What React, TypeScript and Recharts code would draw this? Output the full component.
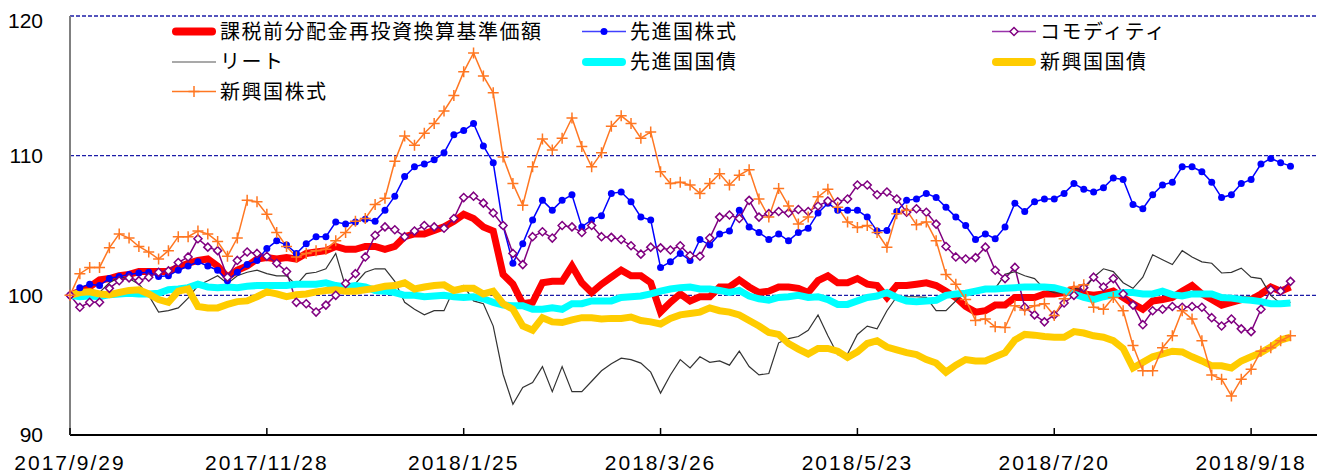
import React from "react";
import { LineChart, Line, XAxis, YAxis, CartesianGrid } from "recharts";

// x axis: business-day index from 2017/9/29, labelled every 40 days
const tickIdx = [0, 40, 80, 120, 160, 200, 240];
const tickLabels = ["2017/9/29", "2017/11/28", "2018/1/25", "2018/3/26", "2018/5/23", "2018/7/20", "2018/9/18"];

// samples are read every other business day
const dayIdx = Array.from({ length: 125 }, (_, k) => k * 2);

const nav = [
  100.0, 100.3, 100.6, 101.1, 101.2, 101.4, 101.5, 101.7, 101.7, 101.7,
  101.7, 102.0, 102.3, 102.5, 102.6, 102.1, 101.3, 101.8, 102.1, 102.6,
  102.7, 102.6, 102.7, 102.6, 103.0, 103.1, 103.2, 103.5, 103.3, 103.3,
  103.5, 103.5, 103.3, 103.5, 104.2, 104.4, 104.4, 104.65, 104.9, 105.3,
  105.8, 105.5, 104.9, 104.6, 101.5, 100.8, 99.4, 99.5, 100.9, 101.0,
  101.0, 102.1, 100.9, 100.2, 100.8, 101.3, 101.8, 101.4, 101.4, 100.9,
  98.8, 99.5, 100.1, 99.6, 99.9, 99.9, 100.6, 100.6, 101.1, 100.6,
  100.2, 100.3, 100.6, 100.6, 100.5, 100.2, 101.05, 101.4, 100.9, 100.9,
  101.2, 100.8, 100.7, 99.85, 100.7, 100.7, 100.8, 100.9, 100.7, 100.3,
  99.85, 99.2, 98.8, 98.9, 99.3, 99.3, 99.85, 99.85, 99.85, 100.1,
  100.1, 100.2, 100.45, 100.1, 100.0, 100.1, 100.3, 99.85, 99.4, 99.0,
  99.6, 99.7, 99.85, 100.3, 100.7, 100.1, 99.7, 99.3, 99.5, 99.7,
  99.7, 100.1, 100.6, 100.3, 100.6,
];

const devEquity = [
  100.0, 100.55, 100.8, 100.7, 101.2, 101.35, 101.5, 101.6, 101.65, 101.35,
  101.4, 101.8, 102.1, 102.4, 102.1, 101.8, 101.05, 101.65, 102.2, 102.5,
  103.35, 103.9, 103.6, 103.0, 103.7, 104.2, 104.2, 105.25, 105.1, 105.25,
  105.45, 105.3, 106.1, 107.1, 108.5, 109.2, 109.4, 109.7, 110.2, 111.5,
  111.8, 112.3, 110.7, 109.5, 105.0, 102.3, 103.7, 105.4, 106.8, 106.1,
  106.8, 107.2, 104.9, 105.4, 105.7, 107.3, 107.4, 106.7, 105.6, 105.4,
  102.0, 102.4, 103.0, 102.5, 104.0, 103.6, 104.4, 104.6, 106.1, 104.9,
  104.5, 104.0, 104.4, 103.9, 104.5, 104.8, 105.9, 106.6, 106.1, 106.1,
  106.1, 105.6, 104.6, 104.65, 106.0, 106.8, 106.9, 107.3, 107.0, 106.3,
  105.6, 105.0, 104.0, 104.4, 104.05, 104.9, 106.6, 106.0, 106.7, 106.9,
  106.9, 107.3, 108.0, 107.6, 107.4, 107.7, 108.4, 108.3, 106.5, 106.2,
  107.2, 107.9, 108.1, 109.2, 109.2, 108.85, 108.1, 107.0, 107.2, 108.0,
  108.3, 109.4, 109.8, 109.5, 109.25,
];

const commodity = [
  100.0, 99.15, 99.5, 99.5, 100.5, 101.05, 101.25, 101.05, 101.3, 101.65,
  101.75, 102.35, 102.75, 104.05, 103.45, 103.2, 101.3, 102.5, 103.1, 103.0,
  102.8, 102.3, 101.7, 99.5, 99.4, 98.8, 99.3, 100.0, 100.85, 101.55,
  102.75, 104.3, 104.9, 104.7, 104.2, 104.6, 105.0, 104.9, 104.8, 105.5,
  107.0, 107.1, 106.6, 105.9, 105.0, 103.0, 102.2, 104.2, 104.55, 104.1,
  105.0, 104.9, 104.5, 105.0, 104.2, 104.15, 104.0, 103.55, 102.95, 103.45,
  103.4, 103.25, 103.55, 102.85, 102.8, 104.1, 105.6, 105.75, 105.5, 106.8,
  105.6, 105.85, 106.0, 105.9, 106.15, 106.0, 106.4, 106.75, 106.7, 106.9,
  107.9, 107.9, 107.2, 107.4, 106.9, 105.95, 106.2, 105.95, 105.1, 103.5,
  102.75, 102.6, 102.7, 103.45, 101.8, 101.2, 102.0, 99.15, 98.6, 98.1,
  98.6, 99.45, 100.0, 100.55, 101.3, 100.6, 101.2, 100.1, 99.3, 97.9,
  98.9, 99.0, 99.2, 99.15, 99.2, 99.15, 98.4, 97.8, 98.3, 97.6,
  97.4, 99.0, 100.4, 100.3, 101.0,
];

const reit = [
  100.0, 100.2, 100.1, 100.2, 100.9, 101.3, 101.2, 100.8, 100.0, 98.8,
  98.9, 99.1, 99.8, 100.7, 101.05, 101.4, 100.85, 101.4, 101.65, 101.8,
  101.55, 101.4, 101.4, 100.75, 101.55, 101.65, 101.9, 103.0, 100.6, 100.85,
  101.65, 101.9, 101.9, 101.0, 99.5, 99.0, 98.6, 98.9, 98.9, 100.45,
  100.7, 99.6, 99.4, 97.8, 94.35, 92.2, 93.4, 93.75, 94.9, 93.1,
  94.9, 93.1, 93.1, 93.85, 94.6, 95.1, 95.5, 95.4, 95.15, 94.5,
  93.0, 94.3, 95.4, 94.8, 95.6, 95.2, 95.3, 95.0, 96.0, 94.9,
  94.3, 94.4, 96.6, 96.9, 97.05, 97.5, 98.6, 97.1, 95.75, 95.8,
  97.2, 97.8, 97.6, 98.9, 99.9, 99.9, 99.9, 99.85, 98.9, 98.9,
  99.6, 100.3, 100.45, 100.35, 100.5, 101.5, 101.7, 101.4, 101.2, 100.45,
  100.2, 100.15, 100.5, 100.4, 101.3, 101.9, 101.7, 100.9, 100.5, 101.3,
  102.9, 102.55, 102.2, 103.2, 102.75, 102.4, 102.3, 101.6, 101.65, 101.95,
  101.3, 101.2, 100.0, 99.4, 99.5,
];

const devBond = [
  100.0, 99.9, 99.95, 99.9, 100.05, 100.1, 100.15, 100.1, 100.1, 100.15,
  100.4, 100.45, 100.55, 100.8, 100.6, 100.55, 100.6, 100.55, 100.65, 100.7,
  100.7, 100.7, 100.7, 100.8, 100.8, 100.8, 100.9, 100.7, 100.6, 100.7,
  100.6, 100.35, 100.3, 100.2, 100.0, 100.0, 99.9, 99.95, 100.0, 99.9,
  99.85, 99.9, 99.75, 99.5, 99.3, 99.25, 99.25, 99.0, 99.0, 99.1,
  99.0, 99.4, 99.4, 99.6, 99.6, 99.6, 99.85, 99.9, 99.95, 100.1,
  100.3, 100.45, 100.55, 100.6, 100.45, 100.45, 100.35, 100.2, 100.35, 99.95,
  99.75, 99.65, 99.85, 99.9, 100.0, 99.85, 99.9, 99.7, 99.35, 99.35,
  99.6, 99.85, 99.95, 100.2, 99.85, 99.6, 99.55, 99.6, 99.65, 100.0,
  100.1, 100.15, 100.3, 100.45, 100.45, 100.5, 100.55, 100.6, 100.6, 100.6,
  100.55, 100.35, 100.1, 99.85, 99.7, 99.9, 100.05, 100.2, 100.2, 100.1,
  100.1, 100.3, 100.05, 99.95, 100.1, 100.1, 100.1, 99.85, 99.8, 99.7,
  99.65, 99.55, 99.4, 99.4, 99.45,
];

const emBond = [
  100.0, 100.2, 100.25, 100.1, 100.05, 100.2, 100.35, 100.4, 100.1, 99.7,
  99.5, 100.3, 100.45, 99.2, 99.1, 99.1, 99.35, 99.55, 99.6, 99.9,
  100.25, 100.1, 99.9, 100.05, 100.1, 100.25, 100.35, 100.4, 100.3, 100.3,
  100.4, 100.5, 100.65, 100.7, 100.9, 100.45, 100.6, 100.7, 100.75, 100.35,
  100.5, 100.5, 100.1, 100.3, 99.4, 99.0, 97.8, 97.5, 98.4, 98.1,
  98.05, 98.25, 98.4, 98.4, 98.3, 98.35, 98.35, 98.45, 98.2, 98.1,
  97.95, 98.35, 98.6, 98.7, 98.8, 99.1, 98.9, 98.8, 98.6, 98.2,
  97.8, 97.35, 97.2, 96.55, 96.15, 95.8, 96.2, 96.2, 96.0, 95.55,
  95.95, 96.55, 96.75, 96.3, 96.1, 95.9, 95.75, 95.4, 95.15, 94.5,
  95.0, 95.4, 95.3, 95.3, 95.6, 95.9, 96.8, 97.2, 97.15, 97.05,
  97.0, 97.0, 97.4, 97.3, 97.1, 97.0, 96.75, 96.2, 94.8, 95.2,
  95.6, 95.8, 96.0, 95.95, 95.6, 95.3, 94.95, 94.95, 94.8, 95.3,
  95.6, 95.9, 96.3, 96.8, 97.0,
];

const emEquity = [
  100.0, 101.55, 102.0, 102.0, 103.4, 104.4, 104.1, 103.5, 103.1, 102.6,
  103.2, 104.2, 104.2, 104.6, 104.4, 103.85, 102.8, 104.1, 106.8, 106.7,
  105.8, 104.5, 103.5, 102.75, 103.0, 103.2, 103.3, 103.9, 104.5, 105.3,
  105.5, 106.5, 106.95, 109.6, 111.4, 110.75, 111.6, 112.3, 113.2, 114.3,
  116.0, 117.35, 115.7, 114.5, 109.9, 108.0, 106.45, 109.2, 111.2, 110.4,
  111.25, 112.7, 110.65, 109.2, 110.2, 112.1, 112.85, 112.3, 111.25, 111.7,
  108.85, 108.0, 108.1, 107.9, 107.3, 108.0, 108.7, 107.9, 108.6, 109.0,
  106.9, 105.6, 107.65, 106.4, 105.1, 105.6, 107.05, 107.6, 106.3, 105.25,
  104.85, 105.0, 104.5, 103.45, 105.85, 106.1, 105.05, 105.25, 103.9, 101.5,
  100.8, 99.7, 98.2, 98.3, 97.75, 97.7, 99.25, 98.95, 99.25, 99.4,
  98.55, 99.75, 100.6, 100.75, 99.15, 99.0, 99.85, 98.9, 96.4, 94.6,
  94.6, 96.25, 97.1, 98.9, 98.3, 96.75, 94.3, 94.0, 92.8, 94.0,
  94.7, 96.0, 96.25, 96.75, 97.1,
];

const data = dayIdx.map((d, k) => ({
  d,
  nav: nav[k],
  devEquity: devEquity[k],
  commodity: commodity[k],
  reit: reit[k],
  devBond: devBond[k],
  emBond: emBond[k],
  emEquity: emEquity[k],
}));

const RED = "#ff0000";
const BLUE = "#0000ff";
const PURPLE = "#800080";
const DARK = "#333333";
const CYAN = "#00ffff";
const YELLOW = "#ffcc00";
const ORANGE = "#ff7722";
const GRID = "#1c1ca8";

const numFont = "'Liberation Sans', Arial, sans-serif";
const jpFont = "'Noto Sans CJK JP', sans-serif";

const circleDot = (p: any) => (
  <circle key={p.index} cx={p.cx} cy={p.cy} r={3.5} fill={BLUE} stroke="none" />
);

const diamondPath = (x: number, y: number, s: number) =>
  `M${x},${y - s}L${x + s},${y}L${x},${y + s}L${x - s},${y}Z`;

const diamondDot = (p: any) => (
  <path key={p.index} d={diamondPath(p.cx, p.cy, 4)} fill="#fff" stroke={PURPLE} strokeWidth={1.5} />
);

const plusPath = (x: number, y: number, s: number) => `M${x - s},${y}H${x + s}M${x},${y - s}V${y + s}`;

const plusDot = (p: any) => (
  <path key={p.index} d={plusPath(p.cx, p.cy, 5.5)} fill="none" stroke={ORANGE} strokeWidth={1.5} />
);

const DateTick = (props: any) => {
  const { x, y, payload } = props;
  const label = tickLabels[tickIdx.indexOf(payload.value)];
  return (
    <g>
      <line x1={x} x2={x} y1={y} y2={y - 7} stroke="#000" strokeWidth={1.5} />
      <text x={x} y={y + 35} textAnchor="middle" fontFamily={numFont} fontSize={21} letterSpacing={2} fill="#000">
        {label}
      </text>
    </g>
  );
};

const legendItems = [
  { name: "課税前分配金再投資換算基準価額", color: RED, kind: "thick", col: 0, row: 0 },
  { name: "先進国株式", color: "#4040ff", kind: "circle", col: 1, row: 0 },
  { name: "コモディティ", color: "#9933aa", kind: "diamond", col: 2, row: 0 },
  { name: "リート", color: "#555555", kind: "thin", col: 0, row: 1 },
  { name: "先進国国債", color: CYAN, kind: "thick", col: 1, row: 1 },
  { name: "新興国国債", color: YELLOW, kind: "thick", col: 2, row: 1 },
  { name: "新興国株式", color: ORANGE, kind: "plus", col: 0, row: 2 },
];
const legendCols = [164, 574, 984];
const legendRows = [23.5, 54, 83.5];

const Legendbox = () => (
  <svg width={1317} height={120} style={{ position: "absolute", left: 0, top: 0, pointerEvents: "none" }}>
    {legendItems.map((it) => {
      const x0 = legendCols[it.col];
      const y = legendRows[it.row];
      const x1 = x0 + 44;
      const mid = (x0 + x1) / 2;
      return (
        <g key={it.name}>
          {it.kind === "thick" ? (
            <line x1={x0 + 4} x2={x1 - 4} y1={y} y2={y} stroke={it.color} strokeWidth={8} strokeLinecap="round" />
          ) : (
            <line x1={x0} x2={x1} y1={y} y2={y} stroke={it.color} strokeWidth={it.kind === "thin" ? 1.2 : 1.5} />
          )}
          {it.kind === "circle" && <circle cx={mid} cy={y} r={3.5} fill={BLUE} />}
          {it.kind === "diamond" && <path d={diamondPath(mid, y, 4)} fill="#fff" stroke={PURPLE} strokeWidth={1.5} />}
          {it.kind === "plus" && <path d={plusPath(mid, y, 5.5)} stroke={ORANGE} strokeWidth={1.5} />}
          <text x={x1 + 4} y={y + 7} fontFamily={jpFont} fontSize={20} letterSpacing={1.5} fill="#000">
            {it.name}
          </text>
        </g>
      );
    })}
  </svg>
);

export default function App() {
  return (
    <div style={{ position: "relative", width: 1317, height: 466 }}>
      <LineChart width={1317} height={466} data={data} margin={{ top: 8, right: 5, left: 0, bottom: 0 }}>
        <CartesianGrid vertical={false} stroke={GRID} strokeWidth={1.4} strokeDasharray="4 2" />
        <XAxis
          dataKey="d"
          type="number"
          domain={[0, 254]}
          ticks={tickIdx}
          interval={0}
          height={39}
          tickSize={0}
          tickMargin={0}
          tickLine={false}
          tick={<DateTick />}
          axisLine={{ stroke: "#000", strokeWidth: 2 }}
        />
        <YAxis
          type="number"
          domain={[90, 120]}
          ticks={[90, 100, 110, 120]}
          width={62}
          tickSize={0}
          tickMargin={27}
          tickLine={false}
          axisLine={{ stroke: "#808080", strokeWidth: 2 }}
          tick={{ fontFamily: numFont, fontSize: 21, fill: "#000" }}
        />
        <Line dataKey="nav" stroke={RED} strokeWidth={7} dot={false} isAnimationActive={false} />
        <Line dataKey="devEquity" stroke={BLUE} strokeWidth={1.5} dot={circleDot} isAnimationActive={false} />
        <Line dataKey="commodity" stroke={PURPLE} strokeWidth={1.5} dot={diamondDot} isAnimationActive={false} />
        <Line dataKey="reit" stroke={DARK} strokeWidth={1.2} dot={false} isAnimationActive={false} />
        <Line dataKey="devBond" stroke={CYAN} strokeWidth={7} dot={false} isAnimationActive={false} />
        <Line dataKey="emBond" stroke={YELLOW} strokeWidth={7} dot={false} isAnimationActive={false} />
        <Line dataKey="emEquity" stroke={ORANGE} strokeWidth={1.5} dot={plusDot} isAnimationActive={false} />
      </LineChart>
      <Legendbox />
    </div>
  );
}
